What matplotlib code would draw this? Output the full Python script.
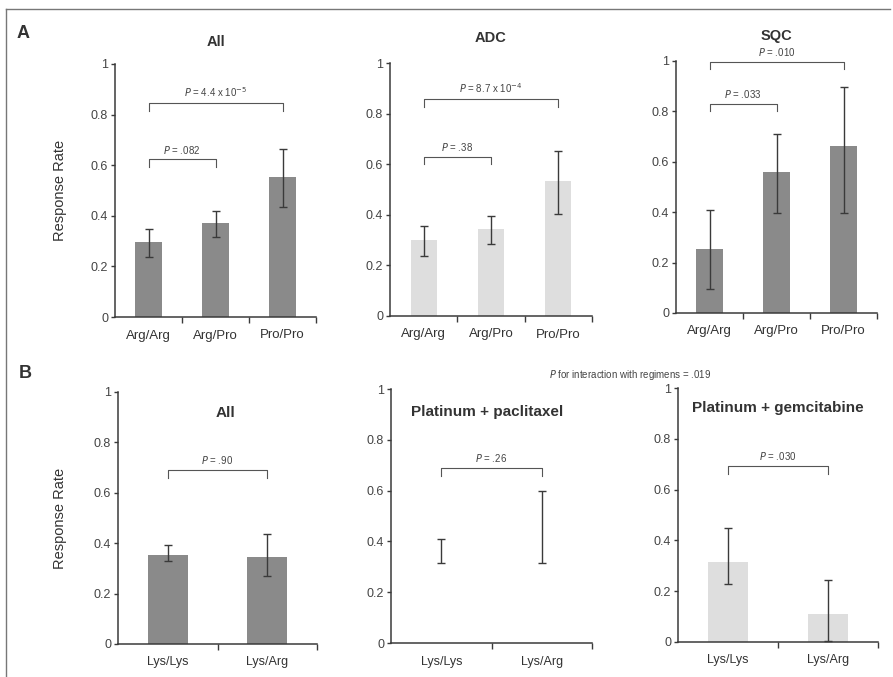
import matplotlib.pyplot as plt
from matplotlib.lines import Line2D

plt.rcParams['font.family'] = ['Liberation Sans', 'DejaVu Sans']

# Panel A: genotypes (Arg/Pro)
geno_a = ["Arg/Arg", "Arg/Pro", "Pro/Pro"]
all_a = [0.295, 0.37, 0.555]
all_a_lo = [0.238, 0.315, 0.436]
all_a_hi = [0.347, 0.42, 0.663]
adc_a = [0.30, 0.343, 0.534]
adc_a_lo = [0.237, 0.285, 0.403]
adc_a_hi = [0.356, 0.395, 0.653]
sqc_a = [0.254, 0.56, 0.663]
sqc_a_lo = [0.095, 0.398, 0.396]
sqc_a_hi = [0.409, 0.709, 0.898]

# Panel B: Lys/Arg genotypes
geno_b = ["Lys/Lys", "Lys/Arg"]
all_b = [0.355, 0.346]
all_b_lo = [0.330, 0.269]
all_b_hi = [0.394, 0.436]
pac_b = [0.36, 0.45]          # bars not visible in the figure
pac_b_lo = [0.313, 0.313]
pac_b_hi = [0.409, 0.599]
gem_b = [0.316, 0.109]
gem_b_lo = [0.23, 0.005]
gem_b_hi = [0.447, 0.246]

# brackets: (i, j, height, label)
br_all_a = [(0, 1, 0.623, "= .082"), (0, 2, 0.845, r"= 4.4 x 10$^{-5}$")]
br_adc_a = [(0, 1, 0.63, "= .38"), (0, 2, 0.857, r"= 8.7 x 10$^{-4}$")]
br_sqc_a = [(0, 1, 0.83, "= .033"), (0, 2, 0.997, "= .010")]
br_all_b = [(0, 1, 0.69, "= .90")]
br_pac_b = [(0, 1, 0.688, "= .26")]
br_gem_b = [(0, 1, 0.693, "= .030")]

W, H = 893, 677
fig = plt.figure(figsize=(W / 100, H / 100), dpi=100)
fig.patch.set_facecolor("white")

DARK = "#3a3a3a"
MID = "#8a8a8a"
LIGHT = "#dedede"


def px_rect(x0, x1, ytop, ybot):
    return [x0 / W, 1 - ybot / H, (x1 - x0) / W, (ybot - ytop) / H]


def panel(rect, cats, vals, lo, hi, color, brackets, tick_fs, bar_w):
    ax = fig.add_axes(rect)
    n = len(cats)
    x = list(range(n))
    ax.bar(x, vals, width=bar_w, color=color, zorder=1)
    yerr = [[v - l for v, l in zip(vals, lo)], [h - v for v, h in zip(vals, hi)]]
    ax.errorbar(x, vals, yerr=yerr, fmt="none", ecolor=DARK, elinewidth=1.0,
                capsize=2.6, capthick=1.0, zorder=3)
    ax.set_xlim(-0.5, n - 0.5)
    ax.set_ylim(0, 1)
    ax.set_yticks([0, 0.2, 0.4, 0.6, 0.8, 1])
    ax.set_yticklabels(["0", "0.2", "0.4", "0.6", "0.8", "1"])
    ax.set_xticks(x)
    ax.set_xticklabels(cats)
    ax.tick_params(axis="x", length=0, pad=9, labelsize=tick_fs, colors="#333")
    ax.set_xticks([k + 0.5 for k in x], minor=True)
    ax.tick_params(axis="x", which="minor", length=4, width=1, color=DARK)
    ax.tick_params(axis="y", length=3, width=1, color=DARK, labelsize=9,
                   labelcolor="#444", pad=2)
    for s in ["top", "right"]:
        ax.spines[s].set_visible(False)
    for s in ["left", "bottom"]:
        ax.spines[s].set_color(DARK)
        ax.spines[s].set_linewidth(1.1)
    for i, j, h, lab in brackets:
        ax.plot([i, i, j, j], [h - 0.03, h, h, h - 0.03], color="#555",
                lw=0.8, clip_on=False)
        ax.text((i + j) / 2, h + 0.015, r"$\it{P}$ " + lab, ha="center",
                va="bottom", fontsize=7, color="#444", clip_on=False)
    return ax


axA1 = panel(px_rect(115, 316, 64, 317), geno_a, all_a, all_a_lo, all_a_hi,
             MID, br_all_a, 9.5, 0.39)
axA2 = panel(px_rect(390, 592, 63, 316), geno_a, adc_a, adc_a_lo, adc_a_hi,
             LIGHT, br_adc_a, 9.5, 0.39)
axA3 = panel(px_rect(676, 877, 61, 313), geno_a, sqc_a, sqc_a_lo, sqc_a_hi,
             MID, br_sqc_a, 9.5, 0.39)
axB1 = panel(px_rect(118, 317, 392, 644), geno_b, all_b, all_b_lo, all_b_hi,
             MID, br_all_b, 9, 0.4)
axB2 = panel(px_rect(391, 592, 389, 643), geno_b, pac_b, pac_b_lo, pac_b_hi,
             "white", br_pac_b, 9, 0.4)
axB3 = panel(px_rect(678, 878, 388, 642), geno_b, gem_b, gem_b_lo, gem_b_hi,
             LIGHT, br_gem_b, 9, 0.4)

# titles
for ax, t, dy in [(axA1, "All", 22), (axA2, "ADC", 25), (axA3, "SQC", 25)]:
    ax.text(0.5, 1 + dy / 253, t, transform=ax.transAxes, ha="center",
            va="center", fontsize=10.5, fontweight="bold", color="#333")
for ax, t, xc, yc in [(axB1, "All", 0.54, 0.915),
                      (axB2, "Platinum + paclitaxel", 0.48, 0.911),
                      (axB3, "Platinum + gemcitabine", 0.5, 0.92)]:
    ax.text(xc, yc, t, transform=ax.transAxes, ha="center", va="center",
            fontsize=11, fontweight="bold", color="#333")

for ax, off in [(axA1, 48 / 201), (axB1, 51 / 199)]:
    ax.set_ylabel("Response Rate", fontsize=10.5, color="#333")
    ax.yaxis.set_label_coords(-off, 0.5)

fig.text(23 / W, 1 - 33 / H, "A", fontsize=13, fontweight="bold",
         ha="center", va="center", color="#333")
fig.text(25 / W, 1 - 373 / H, "B", fontsize=13, fontweight="bold",
         ha="center", va="center", color="#333")
fig.text(630 / W, 1 - 375 / H, r"$\it{P}$ for interaction with regimens = .019",
         fontsize=7, ha="center", va="center", color="#444")

# frame lines (top and left)
fig.add_artist(Line2D([6 / W, 890 / W], [1 - 9 / H, 1 - 9 / H],
                      transform=fig.transFigure, color="#777", lw=1))
fig.add_artist(Line2D([6 / W, 6 / W], [1 - 9 / H, 0],
                      transform=fig.transFigure, color="#777", lw=1))

fig.savefig("out.png", dpi=100)
